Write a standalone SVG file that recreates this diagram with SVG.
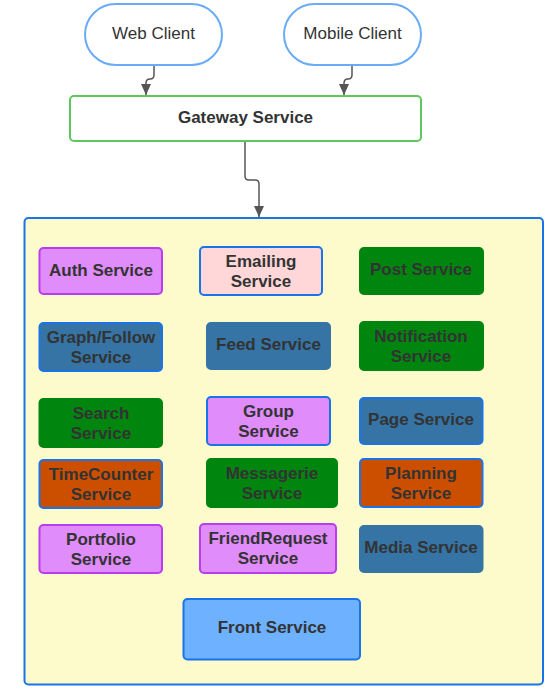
<svg xmlns="http://www.w3.org/2000/svg" width="552" height="695" viewBox="0 0 552 695">
<style>
text{font-family:"Liberation Sans",Arial,sans-serif;font-size:17px;fill:#333;text-anchor:middle;dominant-baseline:central}
.b{font-weight:bold}
.n{stroke-width:2}
.lav{fill:#e08cfb;stroke:#b93cf0}
.lavb{fill:#e08cfb;stroke:#1a73e8}
.pink{fill:#ffd7d9;stroke:#1a73e8}
.grn{fill:#00860f;stroke:#00860f}
.stl{fill:#3574a5;stroke:#3574a5}
.stlb{fill:#3574a5;stroke:#1a73e8}
.org{fill:#cc4f00;stroke:#1a73e8}
.conn{fill:none;stroke:#555;stroke-width:1.5}
</style>
<defs>
<marker id="ah" markerUnits="userSpaceOnUse" markerWidth="11" markerHeight="10" refX="11" refY="5" orient="auto" viewBox="0 0 11 10">
<path d="M0,0 L11,5 L0,10 z" fill="#555"/>
</marker>
</defs>
<g id="container">
<rect x="24.5" y="218" width="518.5" height="466.5" rx="4" fill="#fdfbcb" stroke="#1a73e8" stroke-width="2"/>
</g>
<g id="connectors">
<path class="conn" d="M154,65 V75 Q154,79 150,79 Q146,79 146,83 V95" marker-end="url(#ah)"/>
<path class="conn" d="M352,65 V75 Q352,79 348,79 Q344,79 344,83 V95" marker-end="url(#ah)"/>
<path class="conn" d="M245,141 V176 Q245,180 249,180 L255,180 Q259,180 259,184 V217" marker-end="url(#ah)"/>
</g>
<g id="web-client">
<rect x="85" y="4" width="137" height="61" rx="30.5" fill="#fff" stroke="#6aabf7" stroke-width="2"/>
<text x="153.5" y="33">Web Client</text>
</g>
<g id="mobile-client">
<rect x="284" y="4" width="137" height="61" rx="30.5" fill="#fff" stroke="#6aabf7" stroke-width="2"/>
<text x="352.5" y="33">Mobile Client</text>
</g>
<g id="gateway">
<rect x="70" y="96" width="351" height="45" rx="4" fill="#fff" stroke="#5ec75e" stroke-width="2"/>
<text class="b" x="245.5" y="117">Gateway Service</text>
</g>
<g id="auth">
<rect class="n lav" x="39.5" y="248" width="122.5" height="46" rx="4"/>
<text class="b" x="101" y="270">Auth Service</text>
</g>
<g id="emailing">
<rect class="n pink" x="200" y="247" width="122" height="48" rx="4"/>
<text class="b" x="261" y="261">Emailing</text>
<text class="b" x="261" y="281">Service</text>
</g>
<g id="post">
<rect class="n grn" x="360" y="248" width="123" height="46" rx="4"/>
<text class="b" x="421" y="269">Post Service</text>
</g>
<g id="graph-follow">
<rect class="n stlb" x="39.5" y="323" width="122.5" height="48" rx="4"/>
<text class="b" x="101" y="337">Graph/Follow</text>
<text class="b" x="101" y="357">Service</text>
</g>
<g id="feed">
<rect class="n stl" x="207" y="323" width="123" height="46" rx="4"/>
<text class="b" x="268.5" y="344">Feed Service</text>
</g>
<g id="notification">
<rect class="n grn" x="360" y="322" width="123" height="48" rx="4"/>
<text class="b" x="421" y="336">Notification</text>
<text class="b" x="421" y="356">Service</text>
</g>
<g id="search">
<rect class="n grn" x="39.5" y="399" width="122.5" height="48" rx="4"/>
<text class="b" x="101" y="413">Search</text>
<text class="b" x="101" y="433">Service</text>
</g>
<g id="group">
<rect class="n lavb" x="207" y="397" width="123" height="48" rx="4"/>
<text class="b" x="268.5" y="411">Group</text>
<text class="b" x="268.5" y="431">Service</text>
</g>
<g id="page">
<rect class="n stlb" x="360" y="398" width="122.5" height="46" rx="4"/>
<text class="b" x="421" y="419">Page Service</text>
</g>
<g id="timecounter">
<rect class="n org" x="39.5" y="460" width="122.5" height="48" rx="4"/>
<text class="b" x="101" y="474">TimeCounter</text>
<text class="b" x="101" y="494">Service</text>
</g>
<g id="messagerie">
<rect class="n grn" x="207" y="459" width="130" height="48" rx="4"/>
<text class="b" x="272" y="473">Messagerie</text>
<text class="b" x="272" y="493">Service</text>
</g>
<g id="planning">
<rect class="n org" x="360" y="459" width="122.5" height="48" rx="4"/>
<text class="b" x="421" y="473">Planning</text>
<text class="b" x="421" y="493">Service</text>
</g>
<g id="portfolio">
<rect class="n lav" x="39.5" y="525" width="122.5" height="48" rx="4"/>
<text class="b" x="101" y="539">Portfolio</text>
<text class="b" x="101" y="559">Service</text>
</g>
<g id="friendrequest">
<rect class="n lav" x="200" y="524" width="136" height="49" rx="4"/>
<text class="b" x="268" y="538">FriendRequest</text>
<text class="b" x="268" y="558">Service</text>
</g>
<g id="media">
<rect class="n stl" x="360" y="526" width="122.5" height="46" rx="4"/>
<text class="b" x="421" y="547">Media Service</text>
</g>
<g id="front">
<rect x="183.5" y="599" width="176.5" height="60.5" rx="4" fill="#6db1ff" stroke="#1a73e8" stroke-width="2"/>
<text class="b" x="272" y="627">Front Service</text>
</g>
</svg>
